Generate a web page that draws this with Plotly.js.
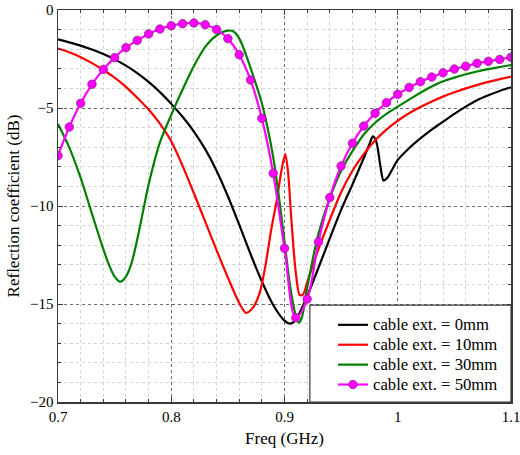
<!DOCTYPE html>
<html>
<head>
<meta charset="utf-8">
<script src="https://cdn.plot.ly/plotly-3.0.1.min.js"></script>
<style>html,body{margin:0;padding:0;background:#fff;}#chart{width:520px;height:455px;}</style>
</head>
<body>
<div id="chart"></div>
<script>
// Series names
const seriesNames = ["cable ext. = 0mm", "cable ext. = 10mm", "cable ext. = 30mm", "cable ext. = 50mm"];

// cable ext. = 0mm (black)
const freq0 = [0.70,0.71,0.72,0.73,0.74,0.75,0.76,0.77,0.78,0.79,0.80,0.81,0.82,0.83,0.84,0.85,0.86,0.87,0.88,0.89,0.90,0.905,0.91,0.92,0.93,0.94,0.95,0.96,0.97,0.975,0.978,0.981,0.9845,0.9875,0.991,0.995,1.00,1.01,1.02,1.03,1.04,1.05,1.06,1.07,1.08,1.09,1.10];
const refl0 = [-1.50,-1.65,-1.82,-2.02,-2.25,-2.52,-2.84,-3.22,-3.67,-4.19,-4.79,-5.45,-6.2,-7.1,-8.2,-9.5,-10.95,-12.45,-13.85,-15.05,-15.85,-16.0,-15.8,-14.6,-13.15,-11.65,-10.2,-8.9,-7.55,-6.85,-6.45,-6.7,-7.9,-8.7,-8.55,-8.15,-7.65,-7.05,-6.55,-6.1,-5.7,-5.3,-4.93,-4.6,-4.35,-4.13,-3.95];

// cable ext. = 10mm (red)
const freq10 = [0.70,0.71,0.72,0.73,0.74,0.75,0.76,0.77,0.78,0.79,0.80,0.81,0.82,0.83,0.84,0.85,0.86,0.866,0.872,0.878,0.883,0.888,0.893,0.897,0.9006,0.903,0.9056,0.908,0.91,0.9135,0.9165,0.92,0.93,0.94,0.95,0.96,0.97,0.98,0.99,1.00,1.01,1.02,1.03,1.04,1.05,1.06,1.07,1.08,1.09,1.10];
const refl10 = [-1.96,-2.16,-2.41,-2.71,-3.06,-3.45,-3.92,-4.48,-5.08,-5.8,-6.7,-7.95,-9.35,-10.8,-12.25,-13.65,-14.95,-15.45,-15.2,-14.45,-13.1,-11.3,-9.75,-8.3,-7.35,-8.2,-10.3,-12.2,-13.4,-14.55,-14.5,-13.9,-12.2,-10.7,-9.3,-8.2,-7.35,-6.65,-6.1,-5.65,-5.27,-4.95,-4.67,-4.42,-4.2,-4.0,-3.83,-3.67,-3.53,-3.40];

// cable ext. = 30mm (green)
const freq30 = [0.70,0.71,0.72,0.73,0.74,0.745,0.75,0.755,0.76,0.765,0.77,0.775,0.78,0.79,0.80,0.81,0.82,0.83,0.84,0.85,0.855,0.86,0.865,0.87,0.875,0.88,0.885,0.89,0.895,0.90,0.905,0.91,0.9125,0.915,0.92,0.925,0.93,0.94,0.95,0.96,0.97,0.98,0.99,1.00,1.01,1.02,1.03,1.04,1.05,1.06,1.07,1.08,1.09,1.10];
const refl30 = [-5.82,-7.02,-8.57,-10.4,-12.2,-13.0,-13.6,-13.86,-13.6,-12.9,-11.7,-10.3,-8.9,-6.75,-5.35,-4.06,-2.86,-1.88,-1.3,-1.05,-1.1,-1.45,-2.12,-2.95,-3.82,-4.76,-6.0,-7.5,-9.5,-11.8,-14.1,-15.6,-15.95,-15.75,-14.2,-12.7,-11.4,-9.6,-8.2,-7.2,-6.35,-5.75,-5.3,-4.93,-4.57,-4.22,-3.9,-3.64,-3.45,-3.28,-3.14,-3.02,-2.91,-2.81];

// cable ext. = 50mm (magenta, with markers)
const freq50 = [0.70,0.71,0.72,0.73,0.74,0.75,0.76,0.77,0.78,0.79,0.80,0.81,0.82,0.83,0.84,0.85,0.86,0.87,0.88,0.89,0.90,0.91,0.92,0.93,0.94,0.95,0.96,0.97,0.98,0.99,1.00,1.01,1.02,1.03,1.04,1.05,1.06,1.07,1.08,1.09,1.10];
const refl50 = [-7.43,-5.97,-4.76,-3.79,-3.03,-2.43,-1.92,-1.55,-1.22,-0.97,-0.80,-0.70,-0.66,-0.75,-1.00,-1.46,-2.28,-3.57,-5.53,-8.33,-12.16,-15.70,-14.75,-11.83,-9.57,-7.96,-6.80,-5.92,-5.27,-4.73,-4.30,-3.95,-3.66,-3.42,-3.20,-3.01,-2.87,-2.72,-2.62,-2.52,-2.41];

// Axis ticks
const xTicks = [0.7, 0.8, 0.9, 1.0, 1.1];
const xTickText = ["0.7", "0.8", "0.9", "1", "1.1"];
const yTicks = [0, -5, -10, -15, -20];
const yTickText = ["0", "\u22125", "\u221210", "\u221215", "\u221220"];

const serif = "Liberation Serif";
const legendName = (s) => '<span style="font-size:16.7px">' + s + '</span>';

const traces = [
  {x: freq0, y: refl0, name: legendName(seriesNames[0]), mode: "lines", line: {color: "#000000", width: 2.2, shape: "spline", smoothing: 0.8}},
  {x: freq10, y: refl10, name: legendName(seriesNames[1]), mode: "lines", line: {color: "#ff0000", width: 2.2, shape: "spline", smoothing: 0.8}},
  {x: freq30, y: refl30, name: legendName(seriesNames[2]), mode: "lines", line: {color: "#008000", width: 2.2, shape: "spline", smoothing: 0.8}},
  {x: freq50, y: refl50, name: legendName(seriesNames[3]), mode: "lines+markers", line: {color: "#ff00ff", width: 2.2, shape: "spline", smoothing: 1},
   marker: {color: "#ff00ff", size: 8.5, line: {color: "#8a2a8a", width: 0.8}}}
];

const axisCommon = {
  showline: true, linecolor: "#3a3a3a", linewidth: 1.5, mirror: "ticks",
  ticks: "inside", ticklen: 5, tickcolor: "#3a3a3a", tickwidth: 1,
  showgrid: true, gridcolor: "#6e6e6e", griddash: "dot", gridwidth: 1,
  zeroline: false, tickfont: {family: serif, size: 15, color: "#000"},
  ticklabeloverflow: "allow"
};

const layout = {
  width: 520, height: 455,
  margin: {l: 58, r: 9, t: 10, b: 53},
  paper_bgcolor: "#ffffff", plot_bgcolor: "#ffffff",
  font: {family: serif, color: "#000"},
  showlegend: true,
  xaxis: Object.assign({}, axisCommon, {
    range: [0.7, 1.1], tickvals: xTicks, ticktext: xTickText,
    minor: {dtick: 0.02, showgrid: true, gridcolor: "#d4d4d4", griddash: "dot", gridwidth: 1, ticks: "inside", ticklen: 3, tickcolor: "#3a3a3a"},
    title: {text: "Freq (GHz)", font: {family: serif, size: 17, color: "#000"}, standoff: 8}
  }),
  yaxis: Object.assign({}, axisCommon, {
    range: [-20, 0], tickvals: yTicks, ticktext: yTickText,
    minor: {dtick: 1, showgrid: true, gridcolor: "#d4d4d4", griddash: "dot", gridwidth: 1, ticks: "inside", ticklen: 3, tickcolor: "#3a3a3a"},
    title: {text: "Reflection coefficient (dB)", font: {family: serif, size: 17, color: "#000"}, standoff: 6}
  }),
  legend: {
    x: 0.607, y: 0.235, xanchor: "left", yanchor: "top",
    bgcolor: "rgba(0,0,0,0)", borderwidth: 0,
    font: {family: serif, size: 13, color: "#000"},
    tracegroupgap: 0
  },
  shapes: [{
    type: "rect", xref: "paper", yref: "paper",
    x0: 0.556, x1: 1.0, y0: 0, y1: 0.247,
    fillcolor: "#ffffff", line: {color: "#3a3a3a", width: 1.2}, layer: "above"
  }]
};

Plotly.newPlot("chart", traces, layout, {displayModeBar: false, staticPlot: true});
</script>
</body>
</html>
